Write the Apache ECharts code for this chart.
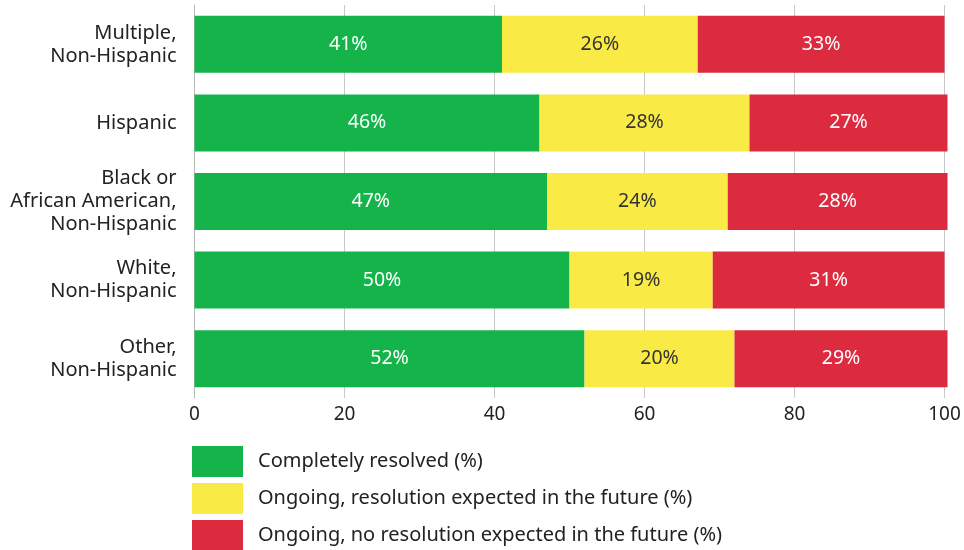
<!DOCTYPE html>
<html><head><meta charset="utf-8">
<script src="https://cdn.jsdelivr.net/npm/echarts@6/dist/echarts.min.js"></script>
<style>html,body{margin:0;padding:0;background:#fff}#c{width:964px;height:550px}</style>
</head><body><div id="c"></div>
<script>
var categories = ['Multiple,\nNon-Hispanic', 'Hispanic', 'Black or\nAfrican American,\nNon-Hispanic', 'White,\nNon-Hispanic', 'Other,\nNon-Hispanic'];
var seriesNames = ['Completely resolved (%)', 'Ongoing, resolution expected in the future (%)', 'Ongoing, no resolution expected in the future (%)'];
var resolved = [41, 46, 47, 50, 52];
var expected = [26.1, 28, 24.1, 19.1, 20];
var notExpected = [32.9, 26.4, 29.3, 30.9, 28.4];
var resolvedLabels = [41, 46, 47, 50, 52];
var expectedLabels = [26, 28, 24, 19, 20];
var notExpectedLabels = [33, 27, 28, 31, 29];
var xTicks = [0, 20, 40, 60, 80, 100];
var colors = ['#14b44a', '#f9ea46', '#dc2a3f'];

var font = 'Noto Sans';
function mk(name, data, labels, color, labelColor) {
  return {
    name: name, type: 'bar', stack: 'total', data: data, barWidth: 57, clip: false,
    itemStyle: { color: color },
    label: { show: true, position: 'inside', color: labelColor, fontSize: 19.5, fontFamily: font,
      padding: [2, 0, 0, 0],
      formatter: function (p) { return labels[p.dataIndex] + '%'; } },
    emphasis: { disabled: true }, animation: false
  };
}
var chart = echarts.init(document.getElementById('c'), null, { renderer: 'canvas' });
chart.setOption({
  animation: false,
  textStyle: { fontFamily: font },
  grid: { left: 194.5, right: 19.5, top: 5, bottom: 152, containLabel: false },
  xAxis: {
    type: 'value', min: xTicks[0], max: xTicks[xTicks.length - 1], interval: 20,
    axisLine: { show: false }, axisTick: { show: false },
    splitLine: { show: true, lineStyle: { color: '#c8c8c8', width: 1 } },
    axisLabel: { color: '#222', fontSize: 19, fontFamily: font, margin: 7 }
  },
  yAxis: {
    type: 'category', data: categories, inverse: true,
    axisLine: { show: true, lineStyle: { color: '#b8b8b8', width: 1 } },
    axisTick: { show: false },
    axisLabel: { color: '#222', fontSize: 20, fontFamily: font, margin: 18, align: 'right', lineHeight: 23 }
  },
  legend: {
    orient: 'vertical', left: 192, top: 446, height: 110, padding: 0,
    itemWidth: 51, itemHeight: 31, itemGap: 6,
    icon: 'rect', selectedMode: false,
    textStyle: { color: '#222', fontSize: 20, fontFamily: font, padding: [4, 0, 0, 10] },
    data: seriesNames
  },
  series: [
    mk(seriesNames[0], resolved, resolvedLabels, colors[0], '#fff'),
    mk(seriesNames[1], expected, expectedLabels, colors[1], '#333'),
    mk(seriesNames[2], notExpected, notExpectedLabels, colors[2], '#fff')
  ]
});
</script></body></html>
